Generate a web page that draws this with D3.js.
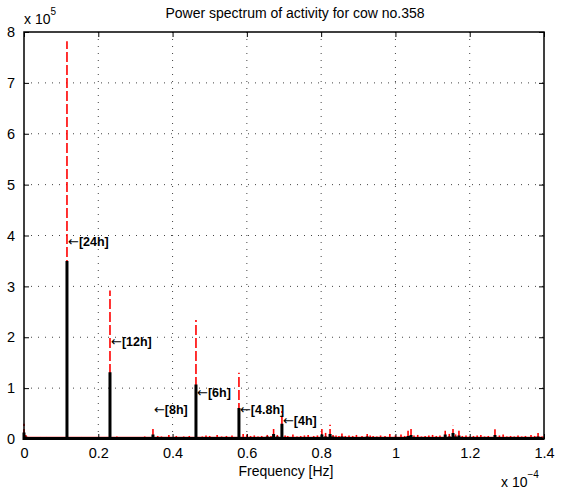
<!DOCTYPE html>
<html lang="en">
<head>
<meta charset="UTF-8" />
<title>Power spectrum</title>
<style>
body { margin: 0; background: #fff; }
svg text { font-family: "Liberation Sans", Arial, Helvetica, sans-serif; fill: #000; }
.grid line { stroke: #444; stroke-width: 1; stroke-dasharray: 1,6; }
</style>
</head>
<body>
<svg id="chart" width="568" height="490"></svg>
<script src="https://cdn.jsdelivr.net/npm/d3@7/dist/d3.min.js"></script>
<script>
// frequency in units of 1e-4 Hz, power in units of 1e5
const freqs = [0.000, 0.005, 0.012, 0.030, 0.045, 0.060, 0.075, 0.090, 0.1157, 0.140,
  0.155, 0.170, 0.190, 0.2315, 0.250, 0.270, 0.285, 0.304, 0.325, 0.3472,
  0.360, 0.370, 0.390, 0.410, 0.430, 0.445, 0.4630, 0.480, 0.490, 0.500,
  0.520, 0.532, 0.545, 0.560, 0.5787, 0.590, 0.600, 0.610, 0.620, 0.630,
  0.640, 0.655, 0.665, 0.672, 0.682, 0.6944, 0.703, 0.710, 0.724, 0.735,
  0.745, 0.755, 0.765, 0.780, 0.790, 0.802, 0.812, 0.824, 0.832, 0.840,
  0.848, 0.856, 0.865, 0.875, 0.885, 0.895, 0.910, 0.924, 0.932, 0.940,
  0.950, 0.960, 0.972, 0.985, 1.000, 1.015, 1.025, 1.034, 1.042, 1.050,
  1.060, 1.070, 1.080, 1.090, 1.100, 1.110, 1.120, 1.134, 1.145, 1.155,
  1.162, 1.171, 1.180, 1.190, 1.200, 1.210, 1.220, 1.230, 1.240, 1.250,
  1.268, 1.280, 1.290, 1.300, 1.310, 1.320, 1.330, 1.340, 1.350, 1.365,
  1.375, 1.384, 1.395];
const redPower = [0.30, 0.08, 0.04, 0.03, 0.04, 0.04, 0.03, 0.03, 7.82, 0.03,
  0.04, 0.04, 0.03, 2.92, 0.05, 0.03, 0.04, 0.04, 0.05, 0.24,
  0.06, 0.05, 0.08, 0.06, 0.05, 0.06, 2.34, 0.05, 0.07, 0.06,
  0.08, 0.05, 0.06, 0.07, 1.30, 0.10, 0.09, 0.06, 0.07, 0.05,
  0.06, 0.08, 0.06, 0.22, 0.08, 0.55, 0.07, 0.06, 0.09, 0.05,
  0.06, 0.07, 0.08, 0.06, 0.07, 0.20, 0.12, 0.28, 0.08, 0.07,
  0.06, 0.11, 0.06, 0.07, 0.06, 0.08, 0.06, 0.10, 0.07, 0.06,
  0.05, 0.07, 0.06, 0.10, 0.07, 0.09, 0.06, 0.16, 0.22, 0.07,
  0.08, 0.05, 0.06, 0.07, 0.08, 0.06, 0.07, 0.16, 0.10, 0.26,
  0.09, 0.16, 0.06, 0.07, 0.05, 0.06, 0.07, 0.08, 0.05, 0.06,
  0.19, 0.07, 0.09, 0.05, 0.06, 0.05, 0.07, 0.05, 0.06, 0.08,
  0.06, 0.12, 0.05];
const blackPower = [0.13, 0.05, 0.03, 0.02, 0.02, 0.02, 0.02, 0.02, 3.50, 0.02,
  0.02, 0.02, 0.02, 1.31, 0.02, 0.02, 0.02, 0.02, 0.03, 0.09,
  0.03, 0.03, 0.03, 0.03, 0.02, 0.03, 1.07, 0.03, 0.03, 0.03,
  0.04, 0.03, 0.03, 0.03, 0.61, 0.04, 0.04, 0.03, 0.03, 0.03,
  0.03, 0.05, 0.04, 0.10, 0.05, 0.30, 0.04, 0.03, 0.04, 0.03,
  0.03, 0.03, 0.03, 0.03, 0.04, 0.09, 0.05, 0.10, 0.05, 0.04,
  0.03, 0.05, 0.03, 0.03, 0.03, 0.04, 0.03, 0.05, 0.04, 0.03,
  0.03, 0.03, 0.03, 0.04, 0.03, 0.04, 0.03, 0.06, 0.08, 0.04,
  0.04, 0.03, 0.03, 0.03, 0.03, 0.03, 0.03, 0.09, 0.05, 0.12,
  0.05, 0.07, 0.03, 0.03, 0.03, 0.03, 0.03, 0.03, 0.03, 0.03,
  0.08, 0.03, 0.04, 0.03, 0.03, 0.03, 0.03, 0.03, 0.03, 0.03,
  0.03, 0.05, 0.03];

// peak labels: text, frequency and label height
const labelText = ["[24h]", "[12h]", "[8h]", "[6h]", "[4.8h]", "[4h]"];
const labelFreq = [0.1157, 0.2315, 0.3472, 0.4630, 0.5787, 0.6944];
const labelPower = [3.88, 1.91, 0.58, 0.91, 0.58, 0.36];

const xTicks = [0, 0.2, 0.4, 0.6, 0.8, 1, 1.2, 1.4];
const yTicks = [0, 1, 2, 3, 4, 5, 6, 7, 8];

const margin = { top: 32, right: 24, bottom: 51, left: 24 };
const W = 568, H = 490;
const w = W - margin.left - margin.right;
const h = H - margin.top - margin.bottom;

const svg = d3.select('#chart');
const g = svg.append('g').attr('transform', `translate(${margin.left},${margin.top})`);

const x = d3.scaleLinear().domain([0, 1.4]).range([0, w]);
const y = d3.scaleLinear().domain([0, 8]).range([h, 0]);

// grid
g.append('g').attr('class', 'grid')
  .selectAll('line').data(xTicks.slice(1, -1)).join('line')
  .attr('x1', d => x(d)).attr('x2', d => x(d)).attr('y1', 0).attr('y2', h);
g.append('g').attr('class', 'grid')
  .selectAll('line').data(yTicks.slice(1, -1)).join('line')
  .attr('x1', 0).attr('x2', w).attr('y1', d => y(d)).attr('y2', d => y(d));

// red series (dashed)
g.append('g').selectAll('line').data(freqs).join('line')
  .attr('x1', d => x(d)).attr('x2', d => x(d))
  .attr('y1', y(0)).attr('y2', (d, i) => y(redPower[i]))
  .attr('stroke', '#ff0000').attr('stroke-width', 1.6)
  .attr('stroke-dasharray', '10,3');
g.append('line').attr('x1', 0).attr('x2', w).attr('y1', y(0.03)).attr('y2', y(0.03))
  .attr('stroke', '#ff0000').attr('stroke-width', 1.5);

// black series (thick)
const pts = [];
freqs.forEach((f, i) => { pts.push([f, 0.01], [f, blackPower[i]], [f, 0.01]); });
g.append('path').datum(pts)
  .attr('fill', 'none').attr('stroke', '#000').attr('stroke-width', 3)
  .attr('d', d3.line().x(d => x(d[0])).y(d => y(d[1])));

// axes box with inward ticks on all sides
const tk = 5;
g.append('g').attr('transform', `translate(0,${h})`)
  .call(d3.axisBottom(x).tickValues(xTicks).tickSize(-tk).tickPadding(9).tickFormat(d3.format('')))
  .call(a => a.select('.domain').remove())
  .call(a => a.selectAll('text').attr('font-size', 14.5).attr('dy', '0.71em'));
g.append('g')
  .call(d3.axisTop(x).tickValues(xTicks).tickSize(-tk).tickFormat(''))
  .call(a => a.select('.domain').remove());
g.append('g')
  .call(d3.axisLeft(y).tickValues(yTicks).tickSize(-tk).tickPadding(9))
  .call(a => a.select('.domain').remove())
  .call(a => a.selectAll('text').attr('font-size', 14.5));
g.append('g').attr('transform', `translate(${w},0)`)
  .call(d3.axisRight(y).tickValues(yTicks).tickSize(-tk).tickFormat(''))
  .call(a => a.select('.domain').remove());
g.selectAll('.tick line').attr('stroke', '#000');
g.selectAll('.tick text').attr('font-family', '"Liberation Sans", Arial, sans-serif');
g.append('rect').attr('width', w).attr('height', h)
  .attr('fill', 'none').attr('stroke', '#000').attr('stroke-width', 1.5);

// peak labels
const lab = g.append('g').selectAll('text').data(labelText).join('text')
  .attr('x', (d, i) => x(labelFreq[i]) + 1)
  .attr('y', (d, i) => y(labelPower[i]))
  .attr('dy', '0.35em')
  .attr('font-size', 12.5);
lab.append('tspan').attr('font-family', '"DejaVu Sans", sans-serif').attr('font-size', 13).text('\u2190');
lab.append('tspan').attr('font-weight', 'bold').text(d => d);

// title and labels
svg.append('text').attr('x', 295).attr('y', 18).attr('text-anchor', 'middle')
  .attr('font-size', 14).text('Power spectrum of activity for cow no.358');
svg.append('text').attr('x', margin.left + w / 2 + 2).attr('y', 476).attr('text-anchor', 'middle')
  .attr('font-size', 14).text('Frequency [Hz]');

const e5 = svg.append('text').attr('x', 24).attr('y', 24).attr('font-size', 14);
e5.append('tspan').text('x 10');
e5.append('tspan').attr('dy', -9).attr('font-size', 10).text('5');
const e4 = svg.append('text').attr('x', 501).attr('y', 487).attr('font-size', 14);
e4.append('tspan').text('x 10');
e4.append('tspan').attr('dy', -9).attr('font-size', 10).text('\u22124');
</script>
</body>
</html>
